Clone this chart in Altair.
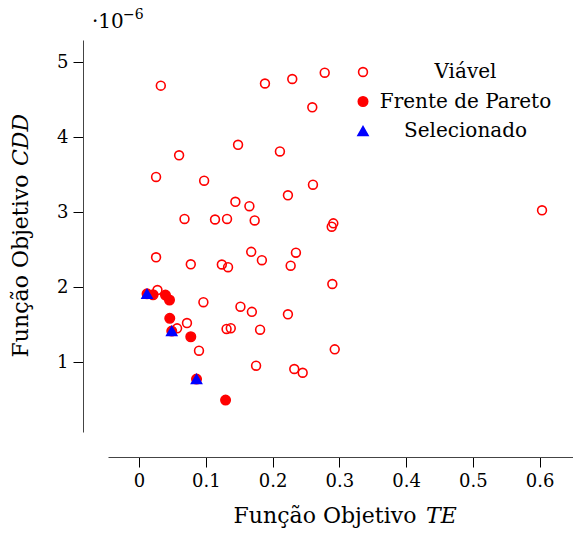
import altair as alt
import pandas as pd

# ---------------- data (values shown in units of 1e-6 on the y axis) ----------
viavel_te = [0.0326, 0.1886, 0.2295, 0.2781, 0.2595, 0.1483, 0.2110, 0.0600, 0.0255,
             0.0975, 0.2605, 0.2230, 0.1443, 0.1653, 0.0681, 0.1138, 0.1318, 0.1732,
             0.2910, 0.2886, 0.6036, 0.0255, 0.0775, 0.1240, 0.1333, 0.1680, 0.1840,
             0.2350, 0.2271, 0.2895, 0.0276, 0.0570, 0.0718, 0.0964, 0.1519, 0.1690,
             0.2230, 0.1311, 0.1374, 0.1813, 0.0898, 0.1753, 0.2325, 0.2451, 0.2931]
viavel_cdd = [4.688, 4.717, 4.777, 4.861, 4.400, 3.900, 3.811, 3.760, 3.471,
              3.421, 3.368, 3.227, 3.140, 3.081, 2.911, 2.904, 2.911, 2.891,
              2.853, 2.808, 3.027, 2.400, 2.307, 2.304, 2.268, 2.473, 2.361,
              2.461, 2.288, 2.044, 1.964, 1.453, 1.524, 1.801, 1.741, 1.673,
              1.640, 1.445, 1.455, 1.435, 1.155, 0.955, 0.911, 0.861, 1.173]

pareto_te = [0.0120, 0.0210, 0.0396, 0.0456, 0.0460, 0.0490, 0.0775, 0.0861, 0.1296]
pareto_cdd = [1.913, 1.901, 1.897, 1.831, 1.587, 1.417, 1.341, 0.777, 0.497]

selecionado_te = [0.0120, 0.0490, 0.0861]
selecionado_cdd = [1.913, 1.417, 0.777]

grupos = ["Viável", "Frente de Pareto", "Selecionado"]
x_ticks = [0, 0.1, 0.2, 0.3, 0.4, 0.5, 0.6]
y_ticks = [1, 2, 3, 4, 5]

x_title = ["Função Objetivo", "TE"]
y_title = ["Função Objetivo", "CDD"]
expoente = ["·10", "−6"]

# ---------------- table ----------------
rows = []
for a, b in zip(viavel_te, viavel_cdd):
    rows.append({"te": a, "cdd": b, "grupo": grupos[0], "ordem": 0})
for a, b in zip(pareto_te, pareto_cdd):
    rows.append({"te": a, "cdd": b, "grupo": grupos[1], "ordem": 1})
for a, b in zip(selecionado_te, selecionado_cdd):
    rows.append({"te": a, "cdd": b, "grupo": grupos[2], "ordem": 2})
df = pd.DataFrame(rows)

FONT = "DejaVu Serif"
W, H = 465, 392

legend = alt.Legend(
    title=None, orient="none", legendX=245, legendY=22, padding=0,
    labelFont=FONT, labelFontSize=20, labelColor="black", labelLimit=0,
    labelAlign="center", labelOffset=92.5, rowPadding=9.5,
    symbolStrokeWidth=1.6,
)

points = alt.Chart(df).mark_point(filled=True, strokeWidth=1.6, opacity=1).encode(
    x=alt.X("te:Q",
            scale=alt.Scale(domain=[-0.0465, 0.65], nice=False, zero=False),
            axis=alt.Axis(values=x_ticks, offset=25, tickSize=10, tickColor="black",
                          domainColor="#444444", domainWidth=1, grid=False, title=None,
                          labelFont=FONT, labelFontSize=18, labelColor="black",
                          labelPadding=5,
                          labelExpr="datum.value == 0 ? '0' : format(datum.value, '.1f')")),
    y=alt.Y("cdd:Q",
            scale=alt.Scale(domain=[0.071, 5.297], nice=False, zero=False),
            axis=alt.Axis(values=y_ticks, offset=25, tickSize=10, tickColor="black",
                          domainColor="#444444", domainWidth=1, grid=False, title=None,
                          labelFont=FONT, labelFontSize=18, labelColor="black",
                          labelPadding=5, format="d")),
    shape=alt.Shape("grupo:N", scale=alt.Scale(domain=grupos,
                    range=["circle", "circle", "triangle-up"]), legend=legend),
    stroke=alt.Stroke("grupo:N", scale=alt.Scale(domain=grupos,
                      range=["#ff0000", "#ff0000", "#0000ff"]), legend=legend),
    fill=alt.Fill("grupo:N", scale=alt.Scale(domain=grupos,
                  range=["transparent", "#ff0000", "#0000ff"]), legend=legend),
    size=alt.Size("grupo:N", scale=alt.Scale(domain=grupos, range=[78, 100, 78]),
                  legend=legend),
    order=alt.Order("ordem:Q"),
)

def txt(s, x, y, size=22, italic=False, angle=0, align="left"):
    kw = dict(font=FONT, fontSize=size, color="black", align=align,
              baseline="alphabetic")
    if italic:
        kw["fontStyle"] = "italic"
    if angle:
        kw["angle"] = angle
    return alt.Chart(pd.DataFrame({"t": [s]})).mark_text(**kw).encode(
        x=alt.value(x), y=alt.value(y), text="t:N")

labels = [
    txt(x_title[0], 217, 483, align="center"),
    txt(x_title[1], 318, 483, italic=True),
    txt(y_title[0], -80, 226, angle=270, align="center"),
    txt(y_title[1], -80, 126, angle=270, italic=True),
    txt(expoente[0], -16, -12, size=20),
    txt(expoente[1], 15, -21, size=14),
]

chart = alt.layer(points, *labels).properties(
    width=W, height=H,
    autosize=alt.AutoSizeParams(type="none"),
    padding={"left": 108, "top": 40, "right": 0, "bottom": 102},
    background="white",
).configure_view(stroke=None)

chart.save("out.html", embed_options={"renderer": "svg", "actions": False})
